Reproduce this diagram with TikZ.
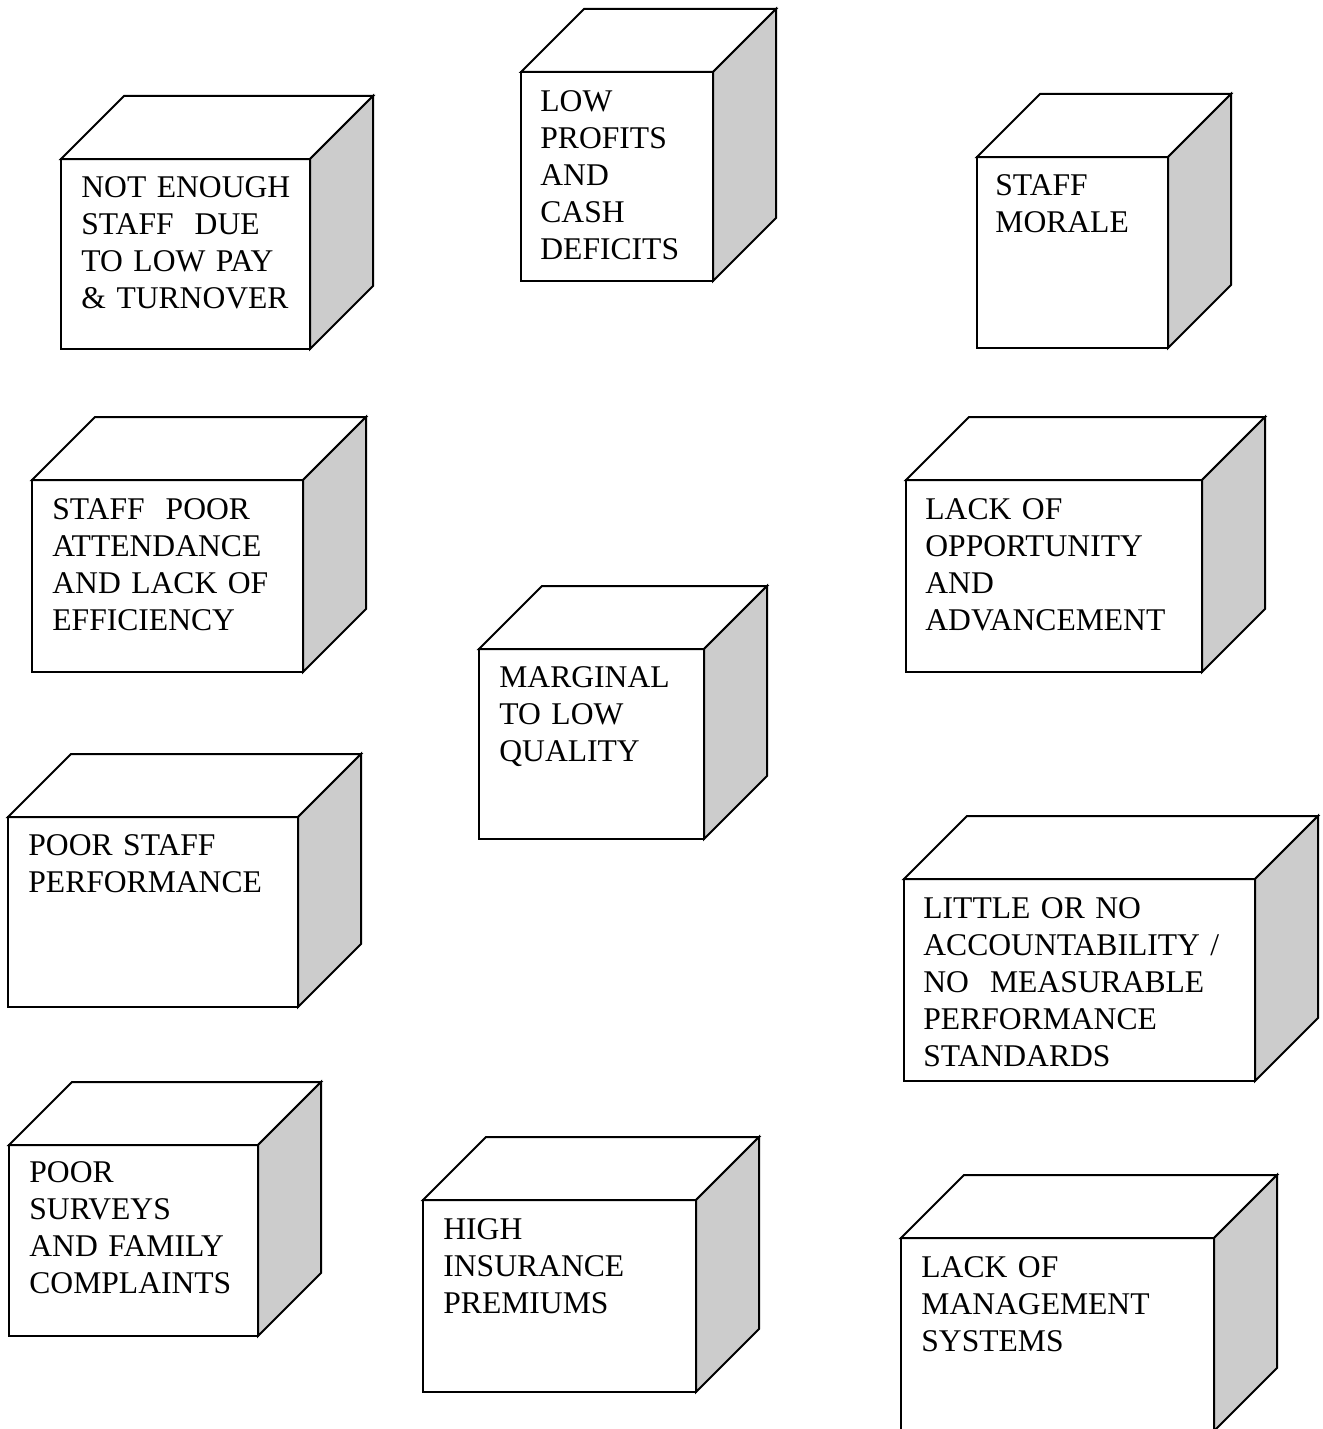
\documentclass[tikz,border=0pt]{standalone}
\usepackage{fontspec}
\setmainfont{Liberation Serif}
\definecolor{sidegray}{gray}{0.8}
\tikzset{
  face/.style={draw=black, line width=1pt, line join=miter},
  frontface/.style={face, fill=white, rectangle, inner sep=0pt, outer sep=0pt, anchor=north west},
  topface/.style={face, fill=white},
  sideface/.style={face, fill=sidegray},
  boxtext/.style={anchor=base west, inner sep=0pt, align=left, text width=200pt,
    font=\fontsize{15.8}{18.5}\selectfont},
}
% A shaded block: name, left, top, right, bottom, text x, first baseline, label
\newcommand\blockcube[8]{%
  \node[frontface, minimum width={(#4-#2)*0.5pt}, minimum height={(#5-#3)*0.5pt}] (#1) at (#2,#3) {};
  \draw[topface] (#1.north west) -- ++(63,-63) -- ([shift={(63,-63)}]#1.north east) -- (#1.north east) -- cycle;
  \draw[sideface] (#1.north east) -- ++(63,-63) -- ([shift={(63,-63)}]#1.south east) -- (#1.south east) -- cycle;
  \node[boxtext] (#1-text) at (#6,#7) {#8};
}
\begin{document}
\begin{tikzpicture}[x=0.5pt, y=-0.5pt]
  \useasboundingbox (0,0) rectangle (1322,1429);
  \clip (0,0) rectangle (1322,1429);
  \blockcube{staffpay}{61}{159}{310}{349}{81}{197}{NOT ENOUGH\\STAFF\ \ DUE\\TO LOW PAY\\\& TURNOVER}
  \blockcube{profits}{521}{72}{713}{281}{540}{112}{LOW\\PROFITS\\AND\\CASH\\DEFICITS}
  \blockcube{morale}{977}{157}{1168}{348}{995}{195}{STAFF\\MORALE}
  \blockcube{attendance}{32}{480}{303}{672}{52}{519}{STAFF\ \ POOR\\ATTENDANCE\\AND LACK OF\\EFFICIENCY}
  \blockcube{opportunity}{906}{480}{1202}{672}{925}{519}{LACK OF\\OPPORTUNITY\\AND\\ADVANCEMENT}
  \blockcube{quality}{479}{649}{704}{839}{499}{687}{MARGINAL\\TO LOW\\QUALITY}
  \blockcube{performance}{8}{817}{298}{1007}{28}{855}{POOR STAFF\\PERFORMANCE}
  \blockcube{accountability}{904}{879}{1255}{1081}{923}{918}{LITTLE OR NO\\ACCOUNTABILITY /\\NO\ \ MEASURABLE\\PERFORMANCE\\STANDARDS}
  \blockcube{surveys}{9}{1145}{258}{1336}{29}{1182}{POOR\\SURVEYS\\AND FAMILY\\COMPLAINTS}
  \blockcube{insurance}{423}{1200}{696}{1392}{443}{1239}{HIGH\\INSURANCE\\PREMIUMS}
  \blockcube{management}{901}{1238}{1214}{1431}{921}{1277}{LACK OF\\MANAGEMENT\\SYSTEMS}
\end{tikzpicture}
\end{document}
